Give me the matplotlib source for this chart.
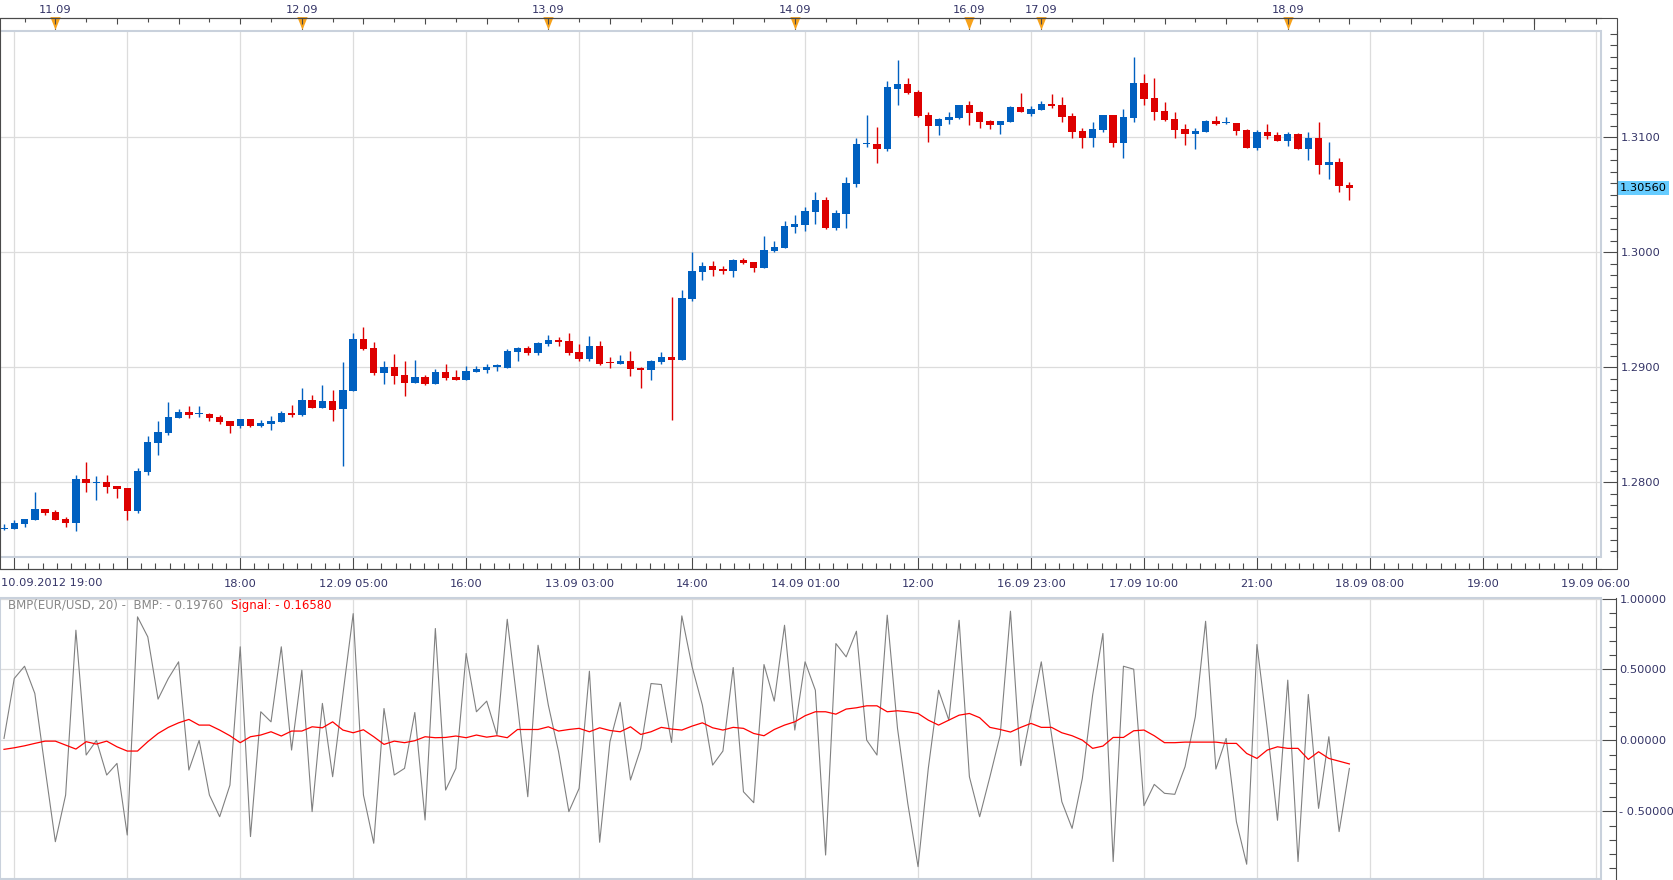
import numpy as np
import matplotlib
matplotlib.use("Agg")
import matplotlib.pyplot as plt
import matplotlib.transforms as mtransforms
from matplotlib.patches import Rectangle
from matplotlib.ticker import FixedLocator, MultipleLocator, FuncFormatter, NullFormatter

# EUR/USD hourly candles, prices read in pips (0.0001) above 1.2800
BASE = 1.28
open_pips = [-40.4, -40.4, -36.1, -32.6, -23.0, -25.7, -31.7, -35.0, 3.0, -0.3,
             0.4, -3.0, -4.5, -24.5, 9.4, 34.6, 43.3, 56.4, 61.3, 59.8,
             59.8, 57.0, 53.5, 49.4, 55.2, 49.4, 50.9, 52.3, 60.4, 58.7,
             71.7, 64.8, 70.9, 63.6, 79.7, 124.8, 117.0, 95.5, 100.4, 93.5,
             86.8, 91.7, 85.9, 96.1, 91.7, 89.1, 96.1, 97.8, 101.0, 99.6,
             113.5, 117.0, 112.6, 120.4, 123.9, 123.0, 113.5, 107.4, 118.7, 104.8,
             103.0, 105.6, 99.6, 97.8, 104.8, 108.9, 106.5, 159.5, 183.0, 188.3,
             185.9, 184.2, 193.5, 191.7, 186.5, 201.3, 203.9, 222.2, 223.9, 235.2,
             245.7, 221.3, 233.5, 259.6, 294.6, 294.3, 290.0, 342.2, 346.5, 339.6,
             319.6, 310.0, 315.2, 316.9, 328.3, 322.2, 314.3, 310.9, 313.8, 326.5,
             320.4, 323.9, 329.1, 328.3, 318.3, 305.6, 299.9, 306.5, 319.6, 295.5,
             317.2, 347.4, 334.3, 323.0, 316.1, 307.4, 303.3, 305.1, 314.3, 313.1,
             312.6, 306.5, 291.2, 304.8, 302.2, 297.3, 303.0, 290.3, 299.6, 276.4,
             278.7, 258.7]
high_pips = [-36.1, -32.6, -31.7, -8.0, -23.0, -23.9, -29.7, 6.5, 18.1, 5.7,
             6.5, -3.0, -4.5, 12.3, 40.4, 53.5, 70.0, 63.6, 66.5, 66.5,
             60.0, 58.4, 53.5, 55.2, 55.2, 54.3, 58.1, 61.9, 67.4, 82.2,
             76.1, 84.8, 80.4, 105.1, 129.7, 135.5, 122.2, 105.6, 111.7, 105.6,
             106.5, 93.5, 98.7, 103.0, 97.8, 101.3, 101.3, 103.0, 103.0, 116.1,
             117.8, 118.7, 122.2, 128.3, 126.2, 129.7, 120.4, 127.4, 123.0, 109.1,
             110.9, 114.3, 100.4, 106.5, 113.5, 161.6, 167.4, 200.4, 191.7, 192.6,
             188.3, 194.6, 195.2, 191.7, 214.3, 210.0, 227.4, 232.6, 239.6, 252.6,
             248.3, 237.0, 265.7, 299.6, 319.6, 309.1, 349.1, 367.4, 351.7, 341.3,
             322.2, 317.0, 322.2, 328.3, 331.7, 323.0, 315.2, 314.3, 327.4, 338.7,
             327.4, 332.0, 337.8, 335.2, 321.0, 308.0, 313.5, 319.6, 319.6, 324.8,
             370.0, 355.2, 351.7, 330.9, 322.2, 311.7, 308.3, 315.2, 318.7, 318.0,
             312.6, 307.4, 306.5, 311.7, 304.8, 304.8, 303.9, 304.8, 313.5, 296.1,
             282.2, 261.3]
low_pips = [-41.3, -40.4, -38.4, -32.6, -28.3, -32.6, -38.4, -41.9, -8.0, -15.2,
            -8.8, -13.2, -32.6, -26.8, 6.5, 24.1, 41.3, 56.4, 56.4, 57.2,
            53.8, 50.9, 43.3, 47.7, 48.6, 48.6, 45.7, 52.3, 57.2, 58.1,
            64.8, 64.8, 53.5, 14.0, 79.7, 115.2, 93.2, 85.9, 85.4, 75.2,
            86.2, 85.1, 85.9, 89.1, 89.1, 89.1, 96.1, 95.2, 97.0, 99.6,
            105.6, 110.9, 110.9, 118.7, 118.7, 111.2, 105.6, 105.6, 102.2, 99.6,
            103.0, 92.6, 82.2, 89.1, 103.0, 54.3, 106.5, 158.1, 176.1, 179.6,
            181.3, 179.0, 190.0, 183.0, 186.5, 200.4, 203.9, 217.0, 218.7, 224.8,
            220.4, 219.6, 221.3, 257.0, 291.7, 277.8, 288.3, 328.3, 337.8, 317.8,
            296.1, 302.2, 311.7, 316.0, 310.9, 308.3, 307.4, 303.0, 313.8, 322.5,
            319.1, 323.9, 325.9, 313.8, 299.6, 291.2, 292.0, 305.1, 292.0, 282.5,
            313.8, 328.3, 315.5, 314.6, 299.9, 293.8, 290.3, 305.1, 310.9, 311.7,
            301.9, 291.2, 289.4, 299.0, 297.3, 292.9, 290.3, 280.7, 268.6, 264.2,
            252.9, 245.9]
close_pips = [-39.3, -35.5, -31.7, -23.0, -26.2, -32.6, -34.9, 3.0, -0.1, 0.3,
              -3.6, -5.4, -24.5, 10.0, 35.2, 43.9, 57.0, 61.3, 59.0, 60.4,
              56.4, 52.9, 49.4, 55.2, 49.4, 52.0, 53.8, 60.4, 58.4, 71.7,
              64.8, 70.9, 63.0, 80.4, 124.8, 116.1, 95.5, 100.4, 92.9, 86.8,
              91.7, 85.9, 96.1, 90.9, 89.1, 97.0, 98.7, 100.4, 101.6, 114.3,
              117.0, 112.6, 121.3, 123.9, 122.2, 112.6, 107.4, 118.7, 103.0, 104.2,
              105.6, 98.7, 97.8, 105.6, 109.1, 106.5, 160.1, 183.9, 188.3, 184.8,
              184.2, 193.5, 190.9, 186.5, 202.2, 204.8, 223.0, 224.8, 236.1, 245.7,
              221.3, 234.3, 260.4, 294.3, 295.2, 290.0, 343.9, 346.5, 338.7, 318.7,
              310.0, 316.1, 317.8, 328.3, 321.3, 313.5, 310.9, 314.3, 326.8, 322.5,
              324.6, 329.1, 327.4, 317.8, 304.8, 299.9, 307.4, 319.6, 295.5, 317.8,
              347.4, 333.8, 322.5, 315.5, 306.8, 303.3, 305.6, 314.3, 311.7, 313.5,
              306.0, 291.2, 304.8, 301.6, 297.3, 303.0, 290.3, 299.6, 276.4, 278.7,
              258.1, 256.0]

# BMP indicator and its signal line
bmp = [0.014, 0.437, 0.523, 0.331, -0.197, -0.714, -0.385, 0.777, -0.103, 0.000,
       -0.244, -0.162, -0.667, 0.871, 0.730, 0.291, 0.437, 0.554, -0.209, 0.000,
       -0.385, -0.538, -0.315, 0.660, -0.678, 0.202, 0.131, 0.660, -0.068, 0.495,
       -0.502, 0.261, -0.256, 0.325, 0.894, -0.385, -0.725, 0.225, -0.244, -0.197,
       0.197, -0.561, 0.789, -0.350, -0.197, 0.613, 0.202, 0.277, 0.038, 0.854,
       0.250, -0.397, 0.671, 0.249, -0.080, -0.502, -0.338, 0.488, -0.718, -0.009,
       0.268, -0.279, -0.056, 0.401, 0.394, -0.014, 0.878, 0.519, 0.249, -0.174,
       -0.075, 0.514, -0.362, -0.439, 0.535, 0.277, 0.812, 0.073, 0.554, 0.354,
       -0.808, 0.683, 0.589, 0.770, 0.002, -0.103, 0.883, 0.085, -0.444, -0.890,
       -0.197, 0.354, 0.143, 0.847, -0.256, -0.538, -0.256, 0.038, 0.911, -0.178,
       0.190, 0.554, 0.038, -0.432, -0.620, -0.268, 0.319, 0.754, -0.854, 0.523,
       0.502, -0.460, -0.310, -0.373, -0.380, -0.185, 0.167, 0.840, -0.202, 0.014,
       -0.573, -0.873, 0.676, 0.085, -0.563, 0.425, -0.854, 0.324, -0.479, 0.026,
       -0.643, -0.1976]
signal = [-0.063, -0.052, -0.038, -0.021, -0.005, -0.005, -0.033, -0.061, -0.009, -0.026,
          -0.005, -0.045, -0.075, -0.075, -0.009, 0.049, 0.092, 0.124, 0.148, 0.108,
          0.108, 0.073, 0.033, -0.016, 0.026, 0.038, 0.061, 0.031, 0.066, 0.066,
          0.096, 0.089, 0.131, 0.073, 0.054, 0.075, 0.026, -0.028, -0.005, -0.016,
          -0.002, 0.026, 0.019, 0.021, 0.031, 0.019, 0.038, 0.023, 0.033, 0.019,
          0.077, 0.077, 0.077, 0.096, 0.066, 0.077, 0.085, 0.061, 0.089, 0.070,
          0.061, 0.096, 0.042, 0.061, 0.092, 0.080, 0.073, 0.101, 0.124, 0.089,
          0.073, 0.092, 0.085, 0.049, 0.033, 0.077, 0.108, 0.131, 0.174, 0.202,
          0.202, 0.185, 0.221, 0.230, 0.244, 0.244, 0.202, 0.209, 0.202, 0.190,
          0.143, 0.108, 0.143, 0.178, 0.190, 0.160, 0.092, 0.077, 0.059, 0.092,
          0.120, 0.092, 0.092, 0.054, 0.033, 0.002, -0.056, -0.040, 0.021, 0.021,
          0.068, 0.073, 0.033, -0.016, -0.016, -0.012, -0.012, -0.012, -0.012, -0.021,
          -0.021, -0.092, -0.127, -0.068, -0.045, -0.056, -0.056, -0.134, -0.080, -0.127,
          -0.146, -0.1658]

# time axis (candle index = hours since 10.09.2012 19:00)
time_pos = [1, 12, 23, 34, 45, 56, 67, 78, 89, 100, 111, 122, 133, 144, 155]
time_labels = ["", "", "18:00", "12.09 05:00", "16:00", "13.09 03:00", "14:00",
               "14.09 01:00", "12:00", "16.09 23:00", "17.09 10:00", "21:00",
               "18.09 08:00", "19:00", "19.09 06:00"]
first_label = "10.09.2012 19:00"
day_pos = [5, 29, 53, 77, 94, 101, 125]
day_labels = ["11.09", "12.09", "13.09", "14.09", "16.09", "17.09", "18.09"]

BLUE = "#0060c0"
RED = "#dd0000"
AXIS = "#4a4a4a"
GRID = "#dcdcdc"
FRAME = "#c9d1dc"
TXT = "#333366"
W, H = 1674, 880
PT = 0.72  # points per pixel at dpi 100

plt.rcParams["font.family"] = "DejaVu Sans"
plt.rcParams["font.size"] = 8.2


def frac(x0, y0, x1, y1):
    return [x0 / W, 1 - y1 / H, (x1 - x0) / W, (y1 - y0) / H]


fig = plt.figure(figsize=(W / 100, H / 100), dpi=100, facecolor="white")
ax = fig.add_axes(frac(0, 31, 1601, 557))
ax2 = fig.add_axes(frac(0, 598, 1601, 879))

x = np.arange(len(open_pips))
o = BASE + np.array(open_pips) / 1e4
h = BASE + np.array(high_pips) / 1e4
l = BASE + np.array(low_pips) / 1e4
c = BASE + np.array(close_pips) / 1e4
colors = np.where(c >= o, BLUE, RED)
body = np.maximum(np.abs(c - o), 0.0001)

xlim = (-0.39, 155.5)

# --- price panel ---
ax.vlines(x, l, h, colors=colors, lw=1.0, zorder=2)
ax.bar(x, body, bottom=(o + c) / 2 - body / 2, width=0.72, color=colors, lw=0, zorder=3)
ax.set_xlim(xlim)
ax.set_ylim(1.27352, 1.31926)
ax.set_xticks(time_pos)
ax.set_xticklabels(time_labels, color=TXT)
ax.xaxis.set_minor_locator(FixedLocator(np.arange(1, 156, 11 / 8)))
ax.yaxis.tick_right()
ax.yaxis.set_major_locator(MultipleLocator(0.01))
ax.yaxis.set_minor_locator(MultipleLocator(0.001))
ax.yaxis.set_major_formatter(FuncFormatter(lambda v, p: f"{v:.4f}"))
ax.grid(True, which="major", color=GRID, lw=0.9, zorder=0)
ax.set_axisbelow(True)
for s in ["left", "top"]:
    ax.spines[s].set_visible(False)
ax.spines["right"].set_position(("outward", 16 * PT))
ax.spines["bottom"].set_position(("outward", 12 * PT))
for s in ["right", "bottom"]:
    ax.spines[s].set_color(AXIS)
    ax.spines[s].set_linewidth(0.8)
ax.tick_params(axis="y", which="major", direction="in", length=14 * PT, width=0.8,
               color=AXIS, labelcolor=TXT, pad=2.5)
ax.tick_params(axis="y", which="minor", direction="in", length=7 * PT, width=0.8, color=AXIS)
ax.tick_params(axis="x", which="major", direction="in", length=12 * PT, width=0.8,
               color=AXIS, labelcolor=TXT, pad=7)
ax.tick_params(axis="x", which="minor", direction="in", length=6 * PT, width=0.8, color=AXIS)
ax.add_patch(Rectangle((0, 0), 1, 1, transform=ax.transAxes, fill=False,
                       ec=FRAME, lw=1.5, clip_on=False, zorder=5))
fig.text(1 / W, 1 - 583 / H, first_label, color=TXT, ha="left", va="center")

# current price marker
lab = mtransforms.blended_transform_factory(ax.transAxes, ax.transData)
ax.text(1 + 19 / 1601, c[-1], f"{c[-1]:.5f}", transform=lab, ha="left", va="center",
        color="black", bbox=dict(fc="#66ccff", ec="none", pad=1.2), zorder=6)

# --- top date strip ---
axt = ax.twiny()
axt.set_xlim(xlim)
for s in ["left", "right", "bottom"]:
    axt.spines[s].set_visible(False)
axt.spines["top"].set_position(("outward", 13 * PT))
axt.spines["top"].set_color(AXIS)
axt.spines["top"].set_linewidth(0.8)
axt.xaxis.set_major_locator(FixedLocator(np.arange(5, 156, 6)))
axt.xaxis.set_minor_locator(FixedLocator(np.arange(2, 156, 3)))
axt.xaxis.set_major_formatter(NullFormatter())
axt.tick_params(axis="x", which="major", direction="in", length=6 * PT, width=0.8, color=AXIS)
axt.tick_params(axis="x", which="minor", direction="in", length=3.6 * PT, width=0.8, color=AXIS)
top = mtransforms.blended_transform_factory(ax.transData, ax.transAxes)
stems = day_pos + [day_pos[-1] + 24]
ax.vlines(stems, 1.0, (557 - 18) / 526, colors=AXIS, lw=0.8, transform=top, clip_on=False)
ax.scatter(day_pos, [(557 - 23) / 526] * len(day_pos), transform=top, clip_on=False,
           marker=[(-0.4, 0.5), (0.4, 0.5), (0, -0.5)], s=85, color="#f7a21b", lw=0, zorder=7)
for p, t in zip(day_pos, day_labels):
    ax.text(p, (557 - 9.5) / 526, t, transform=top, ha="center", va="center", color=TXT)

# outer axis box (date strip, price scale, time scale)
fig.add_artist(Rectangle((0.5 / W, 1 - 569 / H), 1616.5 / W, 551 / H, transform=fig.transFigure,
                         fill=False, ec=AXIS, lw=0.8))

# --- BMP panel ---
ax2.plot(x, bmp, color="#808080", lw=0.8, zorder=3)
ax2.plot(x, signal, color="#ff0000", lw=0.9, zorder=4)
ax2.set_xlim(xlim)
ax2.set_ylim(-0.977, 1.004)
ax2.set_xticks(time_pos)
ax2.tick_params(axis="x", which="both", bottom=False, labelbottom=False)
ax2.yaxis.tick_right()
ax2.yaxis.set_major_locator(MultipleLocator(0.5))
ax2.yaxis.set_minor_locator(MultipleLocator(0.1))
ax2.yaxis.set_major_formatter(FuncFormatter(
    lambda v, p: f"- {abs(v):.5f}" if v < -1e-9 else f"{abs(v):.5f}"))
ax2.grid(True, which="major", color=GRID, lw=0.9, zorder=0)
for s in ["left", "top", "bottom"]:
    ax2.spines[s].set_visible(False)
ax2.spines["right"].set_position(("outward", 15 * PT))
ax2.spines["right"].set_color(AXIS)
ax2.spines["right"].set_linewidth(0.8)
ax2.tick_params(axis="y", which="major", direction="in", length=14 * PT, width=0.8,
                color=AXIS, labelcolor=TXT, pad=2.5)
ax2.tick_params(axis="y", which="minor", direction="in", length=7 * PT, width=0.8, color=AXIS)
ax2.add_patch(Rectangle((0, 0), 1, 1, transform=ax2.transAxes, fill=False,
                        ec=FRAME, lw=1.5, clip_on=False, zorder=5))
fig.text(8 / W, 1 - 605 / H, f"BMP(EUR/USD, 20) -  BMP: - {abs(bmp[-1]):.5f}",
         color="#888888", ha="left", va="center", fontsize=8.5)
fig.text(231 / W, 1 - 605 / H, f"Signal: - {abs(signal[-1]):.5f}", color="#ff0000",
         ha="left", va="center", fontsize=8.5)

fig.savefig("out.png", dpi=100, facecolor="white")
